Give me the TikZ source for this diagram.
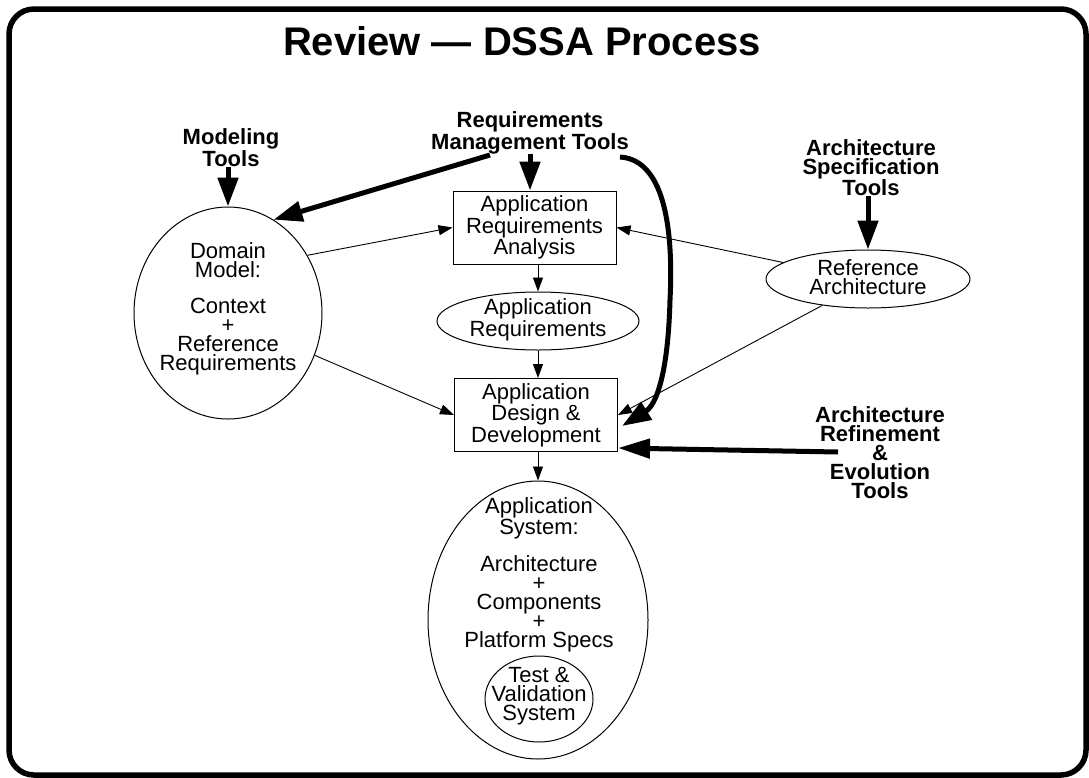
\documentclass[tikz,border=0pt]{standalone}
\usepackage{fontspec}
\setmainfont{Liberation Sans}
\usetikzlibrary{arrows.meta,calc,shapes.geometric}
\begin{document}
\begin{tikzpicture}[x=1pt,y=-1pt,
  txt/.style={font=\fontsize{22}{19}\selectfont, align=center, inner sep=0pt},
  btxt/.style={font=\fontsize{22}{19}\selectfont\bfseries, align=center, inner sep=0pt},
  boxn/.style={draw, line width=1pt, minimum width=163pt, minimum height=73pt, inner sep=0pt, txt},
  ell/.style={draw, ellipse, line width=1pt, inner sep=0pt},
  thinarr/.style={line width=0.9pt, -{Triangle[length=14pt,width=10pt]}},
  thickarr/.style={line width=5pt, -{Triangle[length=29pt,width=20pt]}},
]
\useasboundingbox (0,0) rectangle (1089,777);
\draw[line width=5.5pt, rounded corners=25pt] (9,9) rectangle (1086,775);

\node[font=\fontsize{40}{40}\selectfont\bfseries, inner sep=0pt] (title) at (522,41) {Review \textemdash\ DSSA Process};

% tool labels
\node[btxt] (mt) at (231,147.5) {Modeling\\Tools};
\node[btxt] (rmt) at (530,133) {Requirements\\Management Tools};
\node[btxt] (ast) at (871,167.5) {Architecture\\Specification\\Tools};
\node[btxt] (aret) at (880,452.5) {Architecture\\Refinement\\\&\\Evolution\\Tools};

% boxes
\node[boxn] (ara) at (534.5,227.5) {Application\\Requirements\\Analysis};
\node[boxn] (des) at (536,415) {Application\\Design \&\\Development};

% ellipses
\node[ell, minimum width=188pt, minimum height=212pt] (dom) at (228,313) {};
\node[txt] (domt) at (228,309) {Domain\\Model:\\[17pt]Context\\+\\Reference\\Requirements};
\node[ell, minimum width=202pt, minimum height=58pt] (areq) at (538,321) {};
\node[txt] (areqt) at (538,320) {Application\\Requirements};
\node[ell, minimum width=204pt, minimum height=58pt] (ref) at (868,279) {};
\node[txt] (reft) at (868,277) {Reference\\Architecture};
\node[ell, minimum width=220pt, minimum height=278pt] (sys) at (538,620) {};
\node[txt] (syst) at (539,575) {Application\\System:\\[15pt]Architecture\\+\\Components\\+\\Platform Specs};
\node[ell, minimum width=108pt, minimum height=86pt] (tst) at (539,699) {};
\node[txt] (tstt) at (539,696) {Test \&\\Validation\\System};

% coordinates for free ends
\coordinate (rmtl) at (490,155);
\coordinate (rmtr) at (620,157);
\coordinate (arestart) at (838,452);

% thick tool arrows
\draw[thickarr] (dom.north |- mt.south) -- (dom.north);
\draw[thickarr] (rmt.south) -- (rmt.south |- ara.north);
\draw[thickarr] (rmtl) -- (dom.64);
\draw[thickarr] (rmtr) .. controls (668,160) and (673,240) .. (670,300)
   .. controls (668,375) and (656,405) .. ($(des.east)+(4,11)$);
\draw[thickarr] (ref.north |- ast.south) -- (ref.north);
\draw[line width=5pt, -{Triangle[length=32pt,width=19pt]}] (arestart) -- ($(des.east)+(0,33)$);

% thin flow arrows
\draw[thinarr] (dom.36.4) -- (ara.west);
\draw[thinarr] (dom.-26.8) -- (des.west);
\draw[thinarr] (ref.169.3) -- (ara.east);
\draw[thinarr] (ref.210) -- (des.east);
\draw[thinarr] (areq.north |- ara.south) -- (areq.north);
\draw[thinarr] (areq.south) -- (areq.south |- des.north);
\draw[thinarr] (sys.north |- des.south) -- (sys.north);
\end{tikzpicture}
\end{document}
